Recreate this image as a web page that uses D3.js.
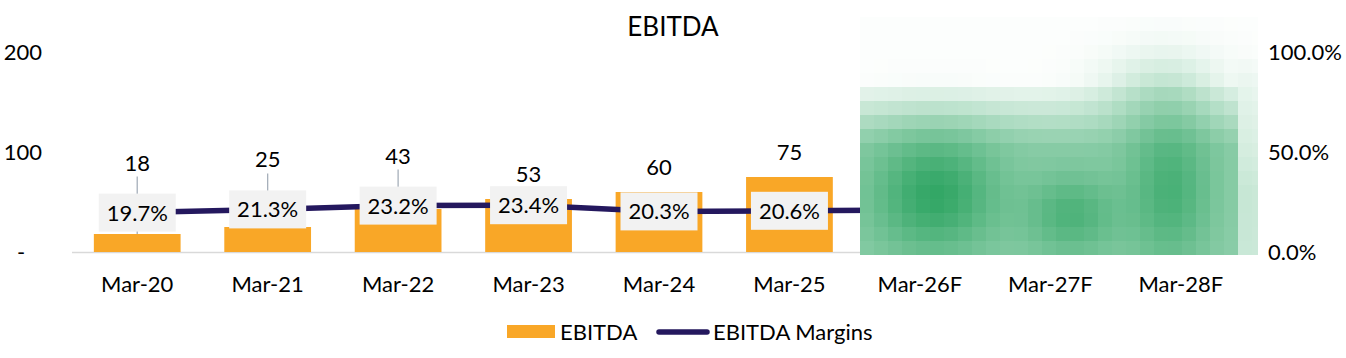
<!DOCTYPE html>
<html>
<head>
<meta charset="utf-8">
<script src="https://cdn.jsdelivr.net/npm/d3@7"></script>
<style>
  html, body { margin: 0; padding: 0; background: #fff; }
  svg text { font-family: Lato, "Open Sans", sans-serif; fill: #000; }
</style>
</head>
<body>
<svg id="chart" width="1346" height="358"></svg>
<script>
// ---- data ----
const categories = ["Mar-20", "Mar-21", "Mar-22", "Mar-23", "Mar-24", "Mar-25", "Mar-26F", "Mar-27F", "Mar-28F"];
const ebitda = [18, 25, 43, 53, 60, 75];          // visible values (forecasts hidden)
const margins = [19.7, 21.3, 23.2, 23.4, 20.3, 20.6, 21.0]; // last one hidden beneath overlay
const leftTicks = [0, 100, 200];
const rightTicks = [0, 50, 100];
const chartTitle = "EBITDA";
const seriesNames = ["EBITDA", "EBITDA Margins"];

// ---- layout ----
const svg = d3.select("#chart");
const plotL = 72, plotR = 1246, plotT = 52, plotB = 252;
const orange = "#F9A727", navy = "#24185E";
const fs = "22px";

const x = d3.scaleBand().domain(categories).range([plotL, plotR]).paddingInner(0.335).paddingOuter(0.1675);
const y = d3.scaleLinear().domain([0, 200]).range([plotB, plotT]);
const y2 = d3.scaleLinear().domain([0, 100]).range([plotB, plotT]);
const cx = c => x(c) + x.bandwidth() / 2;

// title
svg.append("text").attr("x", 673).attr("y", 36).attr("text-anchor", "middle")
  .style("font-size", "26px").text(chartTitle);

// baseline
svg.append("line").attr("x1", plotL).attr("x2", plotR).attr("y1", plotB + 0.5).attr("y2", plotB + 0.5)
  .attr("stroke", "#D9D9D9").attr("stroke-width", 1.5);

// left axis
const la = svg.append("g").attr("transform", `translate(42,0)`)
  .call(d3.axisLeft(y).tickValues(leftTicks).tickSize(0).tickPadding(0)
    .tickFormat(d => d === 0 ? "-   " : d3.format(",")(d)));
la.select(".domain").remove();
la.selectAll("text").style("font-size", fs).style("white-space", "pre").attr("font-family", null);

// right axis
const ra = svg.append("g").attr("transform", `translate(1268,0)`)
  .call(d3.axisRight(y2).tickValues(rightTicks).tickSize(0).tickPadding(0)
    .tickFormat(d => d3.format(".1f")(d) + "%"));
ra.select(".domain").remove();
ra.selectAll("text").style("font-size", fs).attr("font-family", null);

// x axis labels
const xa = svg.append("g").attr("transform", `translate(0,${plotB})`)
  .call(d3.axisBottom(x).tickSize(0).tickPadding(24));
xa.select(".domain").remove();
xa.selectAll("text").style("font-size", fs).attr("font-family", null);

// data rows
const rows = ebitda.map((v, i) => ({ cat: categories[i], v, m: margins[i] }));

// box geometry for margin labels
const boxW = 77, boxH = 38;

// value label positions with collision avoidance against the margin box
rows.forEach(r => {
  const barTop = y(r.v);
  const boxTop = y2(r.m) - boxH / 2;
  let ly = barTop - 25;
  r.moved = false;
  if (ly + 9 > boxTop - 3) { ly = boxTop - 31; r.moved = true; }
  r.ly = ly;
});

// leader lines
svg.append("g").selectAll("line").data(rows.filter(r => r.moved)).join("line")
  .attr("x1", r => cx(r.cat)).attr("x2", r => cx(r.cat))
  .attr("y1", r => r.ly + 14).attr("y2", r => y(r.v))
  .attr("stroke", "#A6AFBA").attr("stroke-width", 1.3);

// bars
svg.append("g").selectAll("rect").data(rows).join("rect")
  .attr("x", r => x(r.cat)).attr("width", x.bandwidth())
  .attr("y", r => y(r.v)).attr("height", r => plotB - y(r.v))
  .attr("fill", orange);

// margin line
const lineData = margins.map((m, i) => ({ cat: categories[i], m }));
svg.append("path").datum(lineData)
  .attr("fill", "none").attr("stroke", navy).attr("stroke-width", 5.5)
  .attr("stroke-linejoin", "round")
  .attr("d", d3.line().x(d => cx(d.cat)).y(d => y2(d.m)));

// margin label boxes
const mg = svg.append("g").selectAll("g").data(rows).join("g")
  .attr("transform", r => `translate(${cx(r.cat)},${y2(r.m)})`);
mg.append("rect").attr("x", -boxW / 2).attr("y", -boxH / 2).attr("width", boxW).attr("height", boxH)
  .attr("fill", "#F2F2F2");
mg.append("text").attr("text-anchor", "middle").attr("dy", "0.36em")
  .style("font-size", fs).text(r => d3.format(".1f")(r.m) + "%");

// value labels
svg.append("g").selectAll("text").data(rows).join("text")
  .attr("x", r => cx(r.cat)).attr("y", r => r.ly).attr("dy", "0.36em")
  .attr("text-anchor", "middle").style("font-size", fs).text(r => r.v);

// ---- pixelated obscuring overlay over forecast columns (decorative, not data) ----
const ovX0 = 860, ovY0 = 17, ovX1 = 1258, ovY1 = 255, cell = 14;
const greenDark = "#23A05A";
const blobSpec = [
  { bx: 935, by: 195, sx: 45, sy: 42, a: 0.85 },
  { bx: 1072, by: 215, sx: 34, sy: 30, a: 0.6 },
  { bx: 1170, by: 190, sx: 30, sy: 55, a: 0.65 },
  { bx: 1160, by: 95, sx: 45, sy: 28, a: 0.22 }
];
const clamp01 = v => Math.max(0, Math.min(1, v));
function shade(px, py) {
  let base;
  if (px < 1235) base = 0.5 * clamp01((py - 80) / 65) + 0.012;
  else base = 0.22 * clamp01((py - 50) / 140) + 0.012;
  let keep = 1 - base;
  blobSpec.forEach(b => {
    const g = b.a * Math.exp(-((px - b.bx) ** 2) / (2 * b.sx * b.sx) - ((py - b.by) ** 2) / (2 * b.sy * b.sy));
    keep *= (1 - g);
  });
  return clamp01(1 - keep);
}
const cells = [];
for (let cy0 = ovY0; cy0 < ovY1; cy0 += cell) {
  for (let cx0 = ovX0; cx0 < ovX1; cx0 += cell) {
    const w = Math.min(cell, ovX1 - cx0), h = Math.min(cell, ovY1 - cy0);
    cells.push({ x: cx0, y: cy0, w, h, t: shade(cx0 + w / 2, cy0 + h / 2) });
  }
}
const col = d3.interpolateRgb("#FFFFFF", greenDark);
svg.append("g").attr("shape-rendering", "crispEdges").selectAll("rect").data(cells).join("rect")
  .attr("x", d => d.x).attr("y", d => d.y).attr("width", d => d.w).attr("height", d => d.h)
  .attr("fill", d => col(d.t));

// legend
const lg = svg.append("g");
lg.append("rect").attr("x", 507).attr("y", 325).attr("width", 48).attr("height", 13).attr("fill", orange);
lg.append("text").attr("x", 560).attr("y", 332).attr("dy", "0.36em").style("font-size", fs).text(seriesNames[0]);
lg.append("line").attr("x1", 659).attr("x2", 707).attr("y1", 332).attr("y2", 332)
  .attr("stroke", navy).attr("stroke-width", 5.5).attr("stroke-linecap", "round");
lg.append("text").attr("x", 713).attr("y", 332).attr("dy", "0.36em").style("font-size", fs).text(seriesNames[1]);
</script>
</body>
</html>
